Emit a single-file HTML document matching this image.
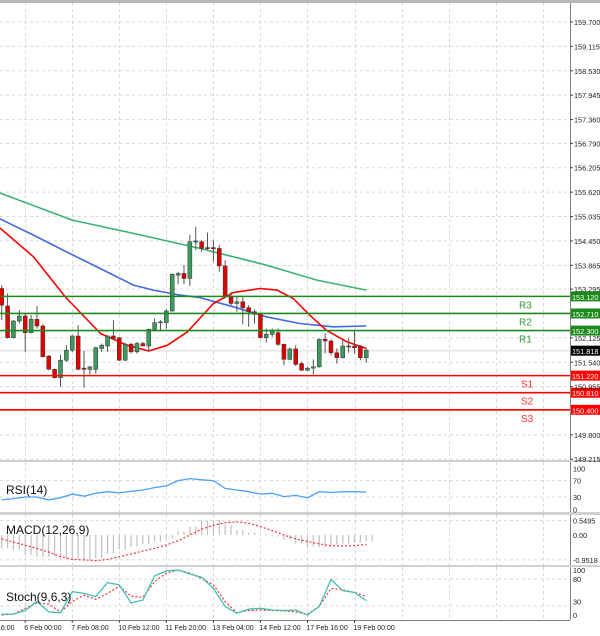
<!DOCTYPE html>
<html><head><meta charset="utf-8"><style>
html,body{margin:0;padding:0;background:#fff;}
svg{display:block;font-family:"Liberation Sans",sans-serif;}
</style></head><body>
<svg id="c" width="600" height="636" viewBox="0 0 600 636" xmlns="http://www.w3.org/2000/svg"></svg>
<script>
// ---- data ----
const opens=[153.31,152.89,152.13,152.53,152.65,152.25,152.57,152.41,151.69,151.37,151.17,151.59,151.83,152.17,151.40,151.37,151.37,151.87,151.93,152.17,152.13,151.59,151.97,151.79,151.99,151.93,152.33,152.49,152.49,152.77,153.63,153.67,153.55,154.42,154.43,154.29,154.29,154.27,153.85,153.11,152.95,152.99,152.85,152.75,152.71,152.13,152.21,152.25,151.97,151.61,151.86,151.51,151.35,151.40,151.43,152.09,152.05,151.77,151.65,151.93,151.93,151.93,151.65];
const highs=[153.39,153.19,152.55,152.79,152.71,152.67,152.89,152.45,151.71,151.39,151.71,151.95,152.19,152.43,151.81,151.45,151.91,151.99,152.19,152.55,152.15,152.01,152.01,152.03,152.03,152.35,152.59,152.55,152.81,153.67,153.71,153.87,154.59,154.79,154.47,154.65,154.47,154.35,153.99,153.23,153.11,153.13,152.91,152.81,152.73,152.35,152.35,152.35,151.99,151.89,151.95,151.55,151.43,151.61,152.11,152.23,152.09,151.87,152.07,152.11,152.31,151.95,151.87];
const lows=[152.55,152.11,152.11,152.47,151.79,152.23,152.35,151.67,151.35,151.15,150.95,151.55,151.79,151.35,150.93,151.25,151.27,151.79,151.79,152.07,151.57,151.57,151.75,151.75,151.93,151.79,152.31,152.31,152.35,152.75,153.41,153.41,153.37,154.23,154.19,154.23,153.95,153.71,153.07,152.91,152.75,152.45,152.39,152.47,152.11,152.01,152.15,151.93,151.47,151.59,151.45,151.33,151.33,151.25,151.41,151.75,151.71,151.51,151.63,151.77,151.75,151.59,151.53];
const closes=[152.91,152.13,152.53,152.65,152.25,152.57,152.41,151.67,151.37,151.17,151.59,151.83,152.17,151.37,151.37,151.43,151.89,151.95,152.17,152.11,151.59,151.97,151.79,151.99,151.93,152.33,152.49,152.51,152.77,153.65,153.67,153.55,154.43,154.45,154.27,154.27,154.26,153.85,153.11,152.95,152.99,152.85,152.75,152.69,152.13,152.21,152.31,151.97,151.61,151.86,151.49,151.35,151.40,151.43,152.09,152.05,151.77,151.65,151.93,151.91,151.89,151.65,151.83];
const maIdx=[-0.3,5.4,10.8,16.8,21.3,25,28.2,31.6,36,39.4,44,46.8,49.6,52.4,55.2,58.7,62];
const maRed=[154.76,154.07,153.11,152.23,151.95,151.81,151.95,152.27,152.95,153.21,153.31,153.27,153.07,152.67,152.31,152.03,151.87];
const blueIdx=[-0.3,5.4,11,16.7,22.4,25.8,30.3,33.7,39.4,45,50.7,56.4,62];
const maBlue=[154.98,154.59,154.19,153.79,153.39,153.27,153.15,153.09,152.87,152.63,152.47,152.39,152.41];
const greenIdx=[-0.3,12,22.4,33.7,45,53.6,62];
const maGreen=[155.60,154.95,154.63,154.27,153.87,153.51,153.27];
const levelNames=["R3","R2","R1","S1","S2","S3"];
const levelVals=[153.12,152.71,152.30,151.22,150.81,150.40];
const priceTicks=[159.700,159.115,158.530,157.945,157.360,156.790,156.205,155.620,155.035,154.450,153.865,153.295,152.125,151.540,150.955,149.800,149.215];
const gridPriceTicks=[159.700,159.115,158.530,157.945,157.360,156.790,156.205,155.620,155.035,154.450,153.865,153.295,152.710,152.125,151.540,150.955,150.385,149.800,149.215];
const currentPrice=151.818;
const dateIdx=[-4,4,12,20,28,36,44,52,60,68,76,84,92];
const dateLabels=["5 Feb 16:00","6 Feb 00:00","7 Feb 08:00","10 Feb 12:00","11 Feb 20:00","13 Feb 04:00","14 Feb 12:00","17 Feb 16:00","19 Feb 00:00","","","",""];
const indIdx=[0,2,4,6,8,10,12,14,16,18,20,22,24,26,28,30,32,34,36,38,40,42,44,46,48,50,52,54,56,58,60,62];
const rsi=[23,26,30,30,23,28,37,32,39,43,40,44,47,53,57,70,75,72,70,51,47,43,37,39,31,34,28,43,41,43,43,42];
const macdHist=[-0.51,-0.57,-0.76,-0.83,-0.83,-0.89,-0.95,-0.95,-0.89,-0.70,-0.55,-0.45,-0.34,-0.25,-0.13,0.13,0.32,0.55,0.57,0.38,0.19,0.09,0.04,-0.06,-0.17,-0.32,-0.45,-0.47,-0.38,-0.32,-0.29,-0.25];
const macdSignal=[-0.14,-0.27,-0.39,-0.52,-0.65,-0.83,-0.93,-0.95,-0.98,-0.93,-0.83,-0.73,-0.61,-0.51,-0.38,-0.22,0,0.22,0.37,0.47,0.50,0.45,0.32,0.17,0,-0.15,-0.25,-0.34,-0.41,-0.42,-0.41,-0.36];
const stochMain=[2,2,10,30,7,5,52,48,41,72,67,27,33,87,98,100,91,84,59,19,4,13,15,11,10,11,0,19,79,54,50,32];
const stochSignal=[0,2,15,27,24,7,30,44,35,48,64,42,39,74,93,100,93,81,67,30,5,10,11,10,9,7,2,19,59,56,50,41];

// ---- scales ----
const X=i=>1.7+5.88*i;
const PY=p=>22+(159.7-p)*41.7;
const RY=v=>509.3-v*0.41;
const MY=v=>535-v*26.2;
const SY=v=>615-v*0.45;
const PLOT_R=570;

const svg=document.getElementById('c');
const NS='http://www.w3.org/2000/svg';
function el(tag,attrs,parent){const e=document.createElementNS(NS,tag);for(const k in attrs)e.setAttribute(k,attrs[k]);(parent||svg).appendChild(e);return e;}
function txt(s,attrs,parent){const e=el('text',attrs,parent);e.textContent=s;return e;}

const defs=el('defs',{});
const cp=el('clipPath',{id:'plot'},defs);el('rect',{x:0,y:3,width:PLOT_R,height:630},cp);
const cpMain=el('clipPath',{id:'mainc'},defs);el('rect',{x:0,y:3,width:PLOT_R,height:457},cpMain);

const tb=el('rect',{x:0,y:0,width:600,height:3,fill:'#b8b8b8'});


const grid=el('g',{stroke:'#d8d8d8','stroke-width':1,'stroke-dasharray':'3,3'});

gridPriceTicks.forEach(p=>{el('line',{x1:0,x2:PLOT_R,y1:PY(p),y2:PY(p)},grid);});
dateIdx.forEach(i=>{const x=Math.round(X(i))+0.5;[[3,460],[462,512],[515,565],[567,620]].forEach(r=>el('line',{x1:x,x2:x,y1:r[0],y2:r[1]},grid));});
[RY(70),RY(30),MY(0.5495),MY(-0.9518),SY(80),SY(20)].forEach(y=>el('line',{x1:0,x2:PLOT_R,y1:y,y2:y},grid));

const cpl=el('line',{x1:0,x2:PLOT_R,y1:PY(currentPrice),y2:PY(currentPrice),stroke:'#e8e8e8','stroke-width':2});


function poly(idx,vals,color,name,w){const pts=idx.map((i,k)=>X(i).toFixed(1)+','+PY(vals[k]).toFixed(1)).join(' ');const p=el('polyline',{points:pts,fill:'none',stroke:color,'stroke-width':w||1.6,'clip-path':'url(#mainc)','stroke-linejoin':'round'});}
poly(greenIdx,maGreen,'#3cb371','ma-green');
poly(blueIdx,maBlue,'#4169e1','ma-blue');
poly(maIdx,maRed,'#ff0000','ma-red');

const cg=el('g',{});
opens.forEach((o,i)=>{
  const c=closes[i],x=X(i),up=c>=o;
  const g=el('g',{},cg);
  
  
  el('line',{x1:x,x2:x,y1:PY(highs[i]),y2:PY(lows[i]),stroke:'#555','stroke-width':1},g);
  const top=PY(Math.max(o,c)),bot=PY(Math.min(o,c));
  el('rect',{x:x-2,y:top,width:4,height:Math.max(1,bot-top),fill:up?'#3c9a5f':'#e00000',stroke:'#333','stroke-width':0.5},g);
});

levelVals.forEach((v,k)=>{
  const isR=levelNames[k][0]==='R',col=isR?'#1a8a1a':'#ff0000',y=PY(v);
  const g=el('g',{});
  
  
  el('line',{x1:0,x2:PLOT_R,y1:y,y2:y,stroke:col,'stroke-width':1.6},g);
  txt(levelNames[k],{x:isR?519:521,y:y+12,fill:isR?'#2e9a2e':'#ff3030','font-size':10},g);
  el('rect',{x:571,y:y-5,width:29,height:10,fill:isR?'#1a8a1a':'#ff0000'},g);
  txt(v.toFixed(3),{x:572,y:y+3.5,fill:'#fff','font-size':7.3},g);
});

const frames=el('g',{fill:'none',stroke:'#808080','stroke-width':1});

el('line',{x1:570.5,x2:570.5,y1:3,y2:620},frames);
[[460,462],[512,515],[565,567]].forEach(r=>{el('rect',{x:0,y:r[0],width:600,height:r[1]-r[0],fill:'#d0d0d0',stroke:'none'},frames);});
el('line',{x1:0,x2:570,y1:620.5,y2:620.5},frames);

const ax=el('g',{'font-size':7.3,fill:'#222'});
priceTicks.forEach(p=>{const y=PY(p);el('line',{x1:570,x2:573,y1:y,y2:y,stroke:'#444'},ax);txt(p.toFixed(3),{x:574,y:y+3},ax);});
const cpt=el('g',{});
el('rect',{x:571,y:PY(currentPrice)-5,width:29,height:10,fill:'#000'},cpt);
txt(currentPrice.toFixed(3),{x:572,y:PY(currentPrice)+3.5,fill:'#fff','font-size':7.3},cpt);

function ipoly(vals,sc,color,name,dash,w){const pts=indIdx.map((i,k)=>X(i).toFixed(1)+','+sc(vals[k]).toFixed(1)).join(' ');const p=el('polyline',{points:pts,fill:'none',stroke:color,'stroke-width':w||1.2,'clip-path':'url(#plot)'});if(dash)p.setAttribute('stroke-dasharray',dash);}
ipoly(rsi,RY,'#4aa0ff','rsi-line',null,1.3);
const rt=txt('RSI(14)',{x:6,y:494,'font-size':12,fill:'#111'});
const ra=el('g',{'font-size':7.3,fill:'#222'});
[[100,'100'],[70,'70'],[30,'30'],[0,'0']].forEach(t=>txt(t[1],{x:573,y:RY(t[0])+3},ra));

const hg=el('g',{stroke:'#c0c0c0','stroke-width':1.2});
indIdx.forEach((i,k)=>{[0,1].forEach(d=>{el('line',{x1:X(i+d),x2:X(i+d),y1:MY(0),y2:MY(macdHist[k])},hg);});});
ipoly(macdSignal,MY,'#ff3030','macd-signal','2,2',1.2);
const mt=txt('MACD(12,26,9)',{x:6,y:534,'font-size':12,fill:'#111'});
const ma=el('g',{'font-size':7.3,fill:'#222'});
[[0.5495,'0.5495'],[0,'0.00'],[-0.9518,'-0.9518']].forEach(t=>txt(t[1],{x:573,y:MY(t[0])+3},ma));

ipoly(stochSignal,SY,'#ff3030','stoch-signal','2,2',1.2);
ipoly(stochMain,SY,'#40c0b0','stoch-main',null,1.3);
const st=txt('Stoch(9,6,3)',{x:6,y:601,'font-size':12,fill:'#111'});
const sa=el('g',{'font-size':7.3,fill:'#222'});
[[100,'100'],[80,'80'],[30,'30'],[0,'0']].forEach(t=>txt(t[1],{x:573,y:SY(t[0])+3},sa));

const da=el('g',{'font-size':7,fill:'#222','clip-path':'url(#plot)'});
dateIdx.forEach((i,k)=>{if(dateLabels[k]){el('line',{x1:X(i),x2:X(i),y1:620,y2:623,stroke:'#444'},da);txt(dateLabels[k],{x:X(i)-1,y:630},da);}});
</script>
</body></html>
